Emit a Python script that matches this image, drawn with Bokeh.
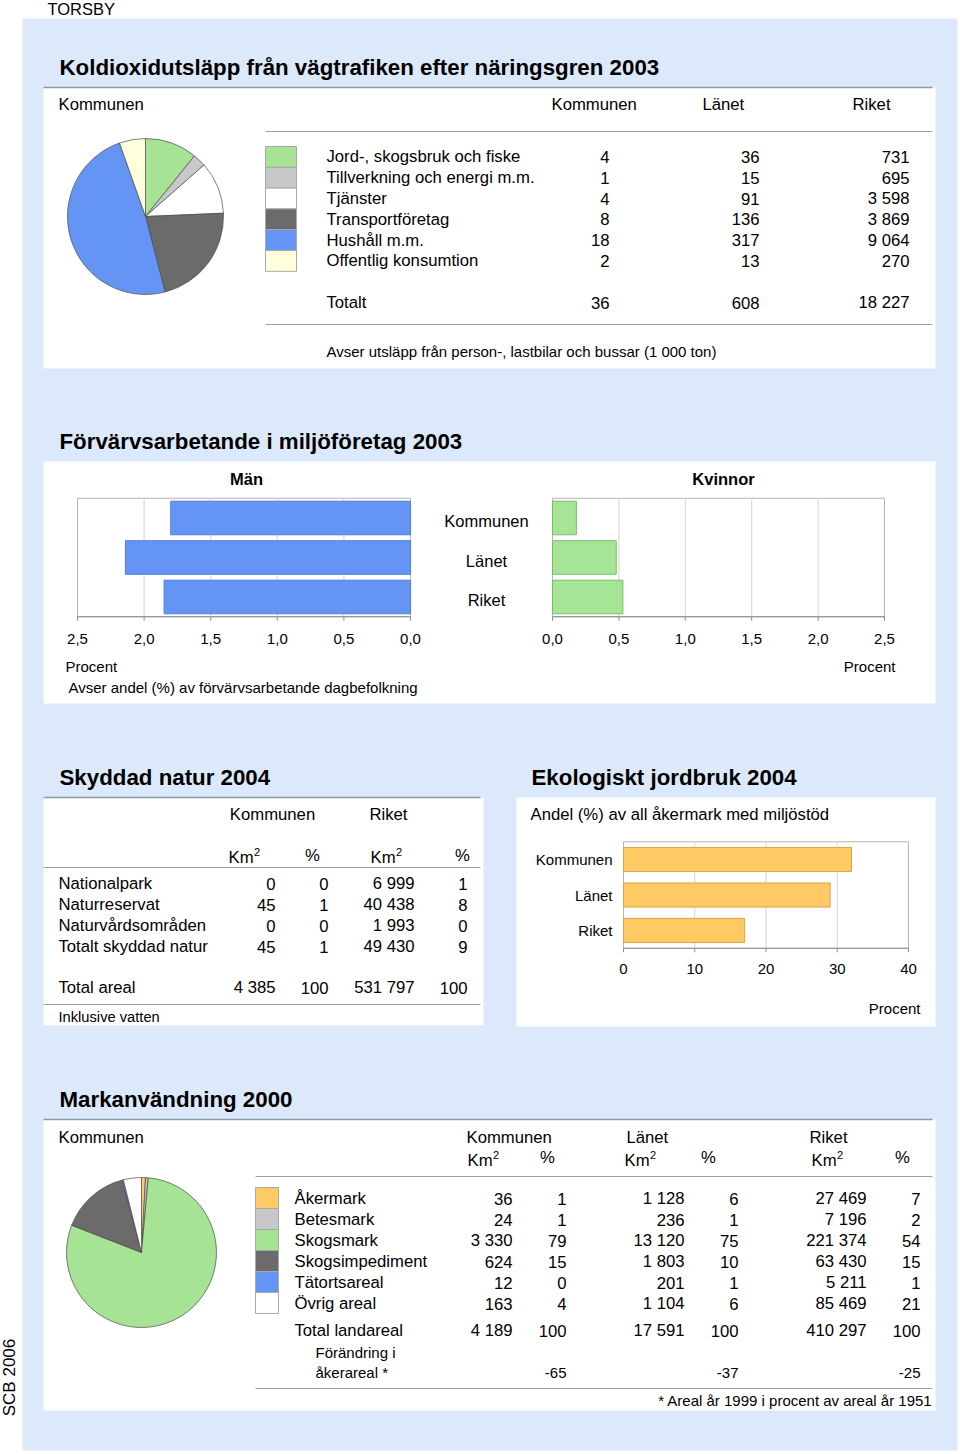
import math
from bokeh.plotting import figure
from bokeh.models import Range1d
from bokeh.core.properties import value
from bokeh.embed import file_html
from bokeh.resources import INLINE

# ---------------- data ----------------
town = "TORSBY"
scb_label = "SCB 2006"

co2_title = "Koldioxidutsläpp från vägtrafiken efter näringsgren 2003"
co2_columns = ["Kommunen", "Länet", "Riket"]
co2_sectors = ["Jord-, skogsbruk och fiske", "Tillverkning och energi m.m.", "Tjänster",
               "Transportföretag", "Hushåll m.m.", "Offentlig konsumtion"]
co2_kommun = [4, 1, 4, 8, 18, 2]
co2_lan = [36, 15, 91, 136, 317, 13]
co2_riket = [731, 695, 3598, 3869, 9064, 270]
co2_totals = [36, 608, 18227]
co2_note = "Avser utsläpp från person-, lastbilar och bussar (1 000 ton)"

env_title = "Förvärvsarbetande i miljöföretag 2003"
env_groups = ["Kommunen", "Länet", "Riket"]
env_men = [1.80, 2.14, 1.85]
env_women = [0.18, 0.48, 0.53]
env_ticks = [0.0, 0.5, 1.0, 1.5, 2.0, 2.5]
env_note = "Avser andel (%) av förvärvsarbetande dagbefolkning"

nat_title = "Skyddad natur 2004"
nat_rows = ["Nationalpark", "Naturreservat", "Naturvårdsområden", "Totalt skyddad natur"]
nat_kom_km2 = [0, 45, 0, 45]
nat_kom_pct = [0, 1, 0, 1]
nat_rik_km2 = [6999, 40438, 1993, 49430]
nat_rik_pct = [1, 8, 0, 9]
nat_total = [4385, 100, 531797, 100]

eco_title = "Ekologiskt jordbruk 2004"
eco_sub = "Andel (%) av all åkermark med miljöstöd"
eco_groups = ["Kommunen", "Länet", "Riket"]
eco_values = [32, 29, 17]
eco_ticks = [0, 10, 20, 30, 40]

land_title = "Markanvändning 2000"
land_rows = ["Åkermark", "Betesmark", "Skogsmark", "Skogsimpediment", "Tätortsareal", "Övrig areal"]
land_kom_km2 = [36, 24, 3330, 624, 12, 163]
land_kom_pct = [1, 1, 79, 15, 0, 4]
land_lan_km2 = [1128, 236, 13120, 1803, 201, 1104]
land_lan_pct = [6, 1, 75, 10, 1, 6]
land_rik_km2 = [27469, 7196, 221374, 63430, 5211, 85469]
land_rik_pct = [7, 2, 54, 15, 1, 21]
land_total = [4189, 100, 17591, 100, 410297, 100]
land_change = [-65, -37, -25]
land_note = "* Areal år 1999 i procent av areal år 1951"

# ---------------- styles ----------------
FONT = "Liberation Sans"
BG = "#dce9fa"
GREEN = "#a6e394"
LGREY = "#c8c8c8"
DGREY = "#6b6b6b"
BLUE = "#6495f5"
CREAM = "#ffffdc"
ORANGE = "#ffc964"
co2_colors = [GREEN, LGREY, "#ffffff", DGREY, BLUE, CREAM]
land_colors = [ORANGE, LGREY, GREEN, DGREY, BLUE, "#ffffff"]
BODY = 16.7
TITLE = 22.3


def fmt(v):
    return f"{v:,}".replace(",", " ")


def fmt_dec(v):
    return f"{v:.1f}".replace(".", ",")


W, H = 958, 1452
X0, Y0 = 0, 0
p = figure(width=W, height=H, x_range=Range1d(X0, X0 + W), y_range=Range1d(Y0 + H, Y0),
           x_axis_type=None, y_axis_type=None, toolbar_location=None, output_backend="svg",
           min_border=0, outline_line_color=None, background_fill_color="white",
           border_fill_color="white")


def xr(d0, p0, d1, p1):
    k = (d1 - d0) / (p1 - p0)
    return Range1d(start=d0 + (X0 - p0) * k, end=d0 + (X0 + W - p0) * k)


def yr(d0, p0, d1, p1):
    k = (d1 - d0) / (p1 - p0)
    return Range1d(start=d0 + (Y0 + H - p0) * k, end=d0 + (Y0 - p0) * k)


def txt(xs, ys, ss, size=BODY, align="left", baseline="middle", bold=False, color="#000000", **kw):
    ss = list(ss) if isinstance(ss, (list, tuple)) else [ss]
    n = len(ss)
    xs = list(xs) if isinstance(xs, (list, tuple)) else [xs] * n
    ys = list(ys) if isinstance(ys, (list, tuple)) else [ys] * n
    p.text(x=xs, y=ys, text=ss, text_font=value(FONT), text_font_size=f"{size}px",
           text_align=align, text_baseline=baseline,
           text_font_style="bold" if bold else "normal", text_color=color, **kw)


def km2(x, y):
    txt(x, y, "Km")
    txt(x + 25.5, y - 6, "2", 11)


def hline(x0, x1, ys, color="#a0a0a0", width=1.0):
    ys = ys if isinstance(ys, list) else [ys]
    p.segment(x0=[x0] * len(ys), x1=[x1] * len(ys), y0=ys, y1=ys, line_color=color, line_width=width)


def pie(name, cx, cy, r, vals, colors):
    p.extra_x_ranges[name + "x"] = xr(0, cx, 1, cx + 1)
    p.extra_y_ranges[name + "y"] = yr(0, cy, 1, cy - 1)
    tot = float(sum(vals))
    c = 0.0
    sa, ea = [], []
    for v in vals:
        c0, c1 = c, c + v / tot
        sa.append(math.pi / 2 - 2 * math.pi * c1)
        ea.append(math.pi / 2 - 2 * math.pi * c0)
        c = c1
    n = len(vals)
    p.wedge(x=[0] * n, y=[0] * n, radius=r, radius_units="screen", start_angle=sa, end_angle=ea,
            fill_color=colors, line_color="#4a4a4a", line_width=0.7,
            x_range_name=name + "x", y_range_name=name + "y")


def barchart(xname, yname, vals, color, edge, height, grid, ticks, ticklabels, px_per_y, lo, hi, tick_off):
    n = len(vals)
    p.quad(left=[lo], right=[hi], top=[-0.5], bottom=[n - 0.5], fill_color=None,
           line_color="#b4b4b4", line_width=1, x_range_name=xname, y_range_name=yname)
    p.segment(x0=grid, x1=grid, y0=[-0.5] * len(grid), y1=[n - 0.5] * len(grid),
              line_color="#d4d4d4", line_width=1, x_range_name=xname, y_range_name=yname)
    p.hbar(y=list(range(n)), left=[0] * n, right=vals, height=height, fill_color=color,
           line_color=edge, line_width=1, x_range_name=xname, y_range_name=yname)
    p.segment(x0=[lo], x1=[hi], y0=[n - 0.5], y1=[n - 0.5], line_color="#8c8c8c", line_width=1,
              x_range_name=xname, y_range_name=yname)
    tl = 4.0 / px_per_y
    p.segment(x0=ticks, x1=ticks, y0=[n - 0.5] * len(ticks), y1=[n - 0.5 + tl] * len(ticks),
              line_color="#8c8c8c", line_width=1, x_range_name=xname, y_range_name=yname)
    txt(ticks, [n - 0.5] * len(ticks), ticklabels, 15, align="center", y_offset=tick_off,
        x_range_name=xname, y_range_name=yname)


# ---------------- page background ----------------
txt(47, 8, town, 16.5)
p.quad(left=[22], right=[957], top=[18], bottom=[1450], fill_color=BG, line_color=None)
p.quad(left=[43, 43, 43, 516, 43], right=[935, 935, 483, 935, 935],
       top=[87, 461, 797, 797, 1119], bottom=[368, 703, 1025, 1026, 1410],
       fill_color="white", line_color=None)
p.segment(x0=[43, 43, 43], x1=[932, 480, 932], y0=[87, 797, 1119], y1=[87, 797, 1119],
          line_color="#8e99a6", line_width=1.5)

# ---------------- section 1: CO2 ----------------
txt(59, 67, co2_title, TITLE, bold=True)
txt(58, 104, "Kommunen")
txt([551, 702, 852], 104, co2_columns)
hline(265, 932, [131, 324])
rh = 20.8
row_y = [156.4 + rh * i for i in range(len(co2_sectors))]
p.quad(left=[265] * 6, right=[296] * 6, top=[146 + rh * i for i in range(6)],
       bottom=[146 + rh * (i + 1) for i in range(6)], fill_color=co2_colors, line_color="#a8a8a8")
txt(326, row_y, co2_sectors)
txt(609, row_y, [fmt(v) for v in co2_kommun], align="right")
txt(759, row_y, [fmt(v) for v in co2_lan], align="right")
txt(909, row_y, [fmt(v) for v in co2_riket], align="right")
txt(326, 302, "Totalt")
txt([609, 759, 909], 302, [fmt(v) for v in co2_totals], align="right")
txt(326, 351, co2_note, 15)
pie("pie1", 145, 216, 78, co2_kommun, co2_colors)

# ---------------- section 2: miljöföretag ----------------
txt(59, 441, env_title, TITLE, bold=True)
txt(246, 478, "Män", 16.5, align="center", bold=True)
txt(723, 478, "Kvinnor", 16.5, align="center", bold=True)
p.extra_y_ranges["grp"] = yr(0, 517.5, 2, 596.5)
p.extra_x_ranges["men"] = xr(2.5, 77, 0, 410)
p.extra_x_ranges["women"] = xr(0, 552, 2.5, 884)
env_labels = [fmt_dec(t) for t in env_ticks]
barchart("men", "grp", env_men, BLUE, "#4d7fdc", 0.85, [0.5, 1.0, 1.5, 2.0],
         env_ticks, env_labels, 39.5, 0, 2.5, 22)
barchart("women", "grp", env_women, "#a6e496", "#7cbd6c", 0.85, [0.5, 1.0, 1.5, 2.0],
         env_ticks, env_labels, 39.5, 0, 2.5, 22)
txt(486, [0, 1, 2], env_groups, 16.5, align="center", y_offset=3, y_range_name="grp")
txt(65, 666, "Procent", 15)
txt(895, 666, "Procent", 15, align="right")
txt(68, 687, env_note, 15)

# ---------------- section 3a: skyddad natur ----------------
txt(59, 777, nat_title, TITLE, bold=True)
txt([272, 388], 814, ["Kommunen", "Riket"], align="center")
km2(228, 857)
km2(370, 857)
txt([312, 462], 855, ["%", "%"], align="center")
hline(43, 480, [867, 1004])
nat_y = [883, 904, 925, 946]
txt(58, nat_y, nat_rows)
txt(275, nat_y, [fmt(v) for v in nat_kom_km2], align="right")
txt(328, nat_y, [fmt(v) for v in nat_kom_pct], align="right")
txt(414, nat_y, [fmt(v) for v in nat_rik_km2], align="right")
txt(467, nat_y, [fmt(v) for v in nat_rik_pct], align="right")
txt(58, 987, "Total areal")
txt([275, 328, 414, 467], 987, [fmt(v) for v in nat_total], align="right")
txt(58, 1016, "Inklusive vatten", 14.7)

# ---------------- section 3b: ekologiskt jordbruk ----------------
txt(531, 777, eco_title, TITLE, bold=True)
txt(530, 814, eco_sub)
p.extra_x_ranges["eco"] = xr(0, 623, 40, 908)
p.extra_y_ranges["ecog"] = yr(0, 859, 2, 930)
barchart("eco", "ecog", eco_values, ORANGE, "#d9a548", 0.68, [10, 20, 30],
         eco_ticks, [str(t) for t in eco_ticks], 35.5, 0, 40, 21)
txt(612, [0, 1, 2], eco_groups, 15, align="right", y_range_name="ecog")
txt(920, 1008, "Procent", 15, align="right")

# ---------------- section 4: markanvändning ----------------
txt(59, 1099, land_title, TITLE, bold=True)
txt(58, 1137, "Kommunen")
txt([466, 626, 809], 1137, ["Kommunen", "Länet", "Riket"])
km2(467, 1160)
km2(624, 1160)
km2(811, 1160)
txt([547, 708, 902], 1157, ["%", "%", "%"], align="center")
hline(255, 932, [1176, 1388])
lh = 21
land_y = [1198 + lh * i for i in range(len(land_rows))]
p.quad(left=[255] * 6, right=[278] * 6, top=[1187 + lh * i for i in range(6)],
       bottom=[1187 + lh * (i + 1) for i in range(6)], fill_color=land_colors, line_color="#a8a8a8")
txt(294, land_y, land_rows)
cols = [512, 566, 684, 738, 866, 920]
for cx, arr in zip(cols, [land_kom_km2, land_kom_pct, land_lan_km2, land_lan_pct, land_rik_km2, land_rik_pct]):
    txt(cx, land_y, [fmt(v) for v in arr], align="right")
txt(294, 1330, "Total landareal")
txt(cols, 1330, [fmt(v) for v in land_total], align="right")
txt(315, [1352, 1372], ["Förändring i", "åkerareal *"], 15)
txt([566, 738, 920], 1372, [str(v) for v in land_change], 15, align="right")
txt(932, 1400, land_note, 15, align="right")
pie("pie2", 141, 1252, 75, land_kom_km2, land_colors)

# ---------------- side label ----------------
txt(8.5, 1377, scb_label, 17, align="center", baseline="middle", angle=math.pi / 2)

open("out.html", "w").write(file_html(p, INLINE))
